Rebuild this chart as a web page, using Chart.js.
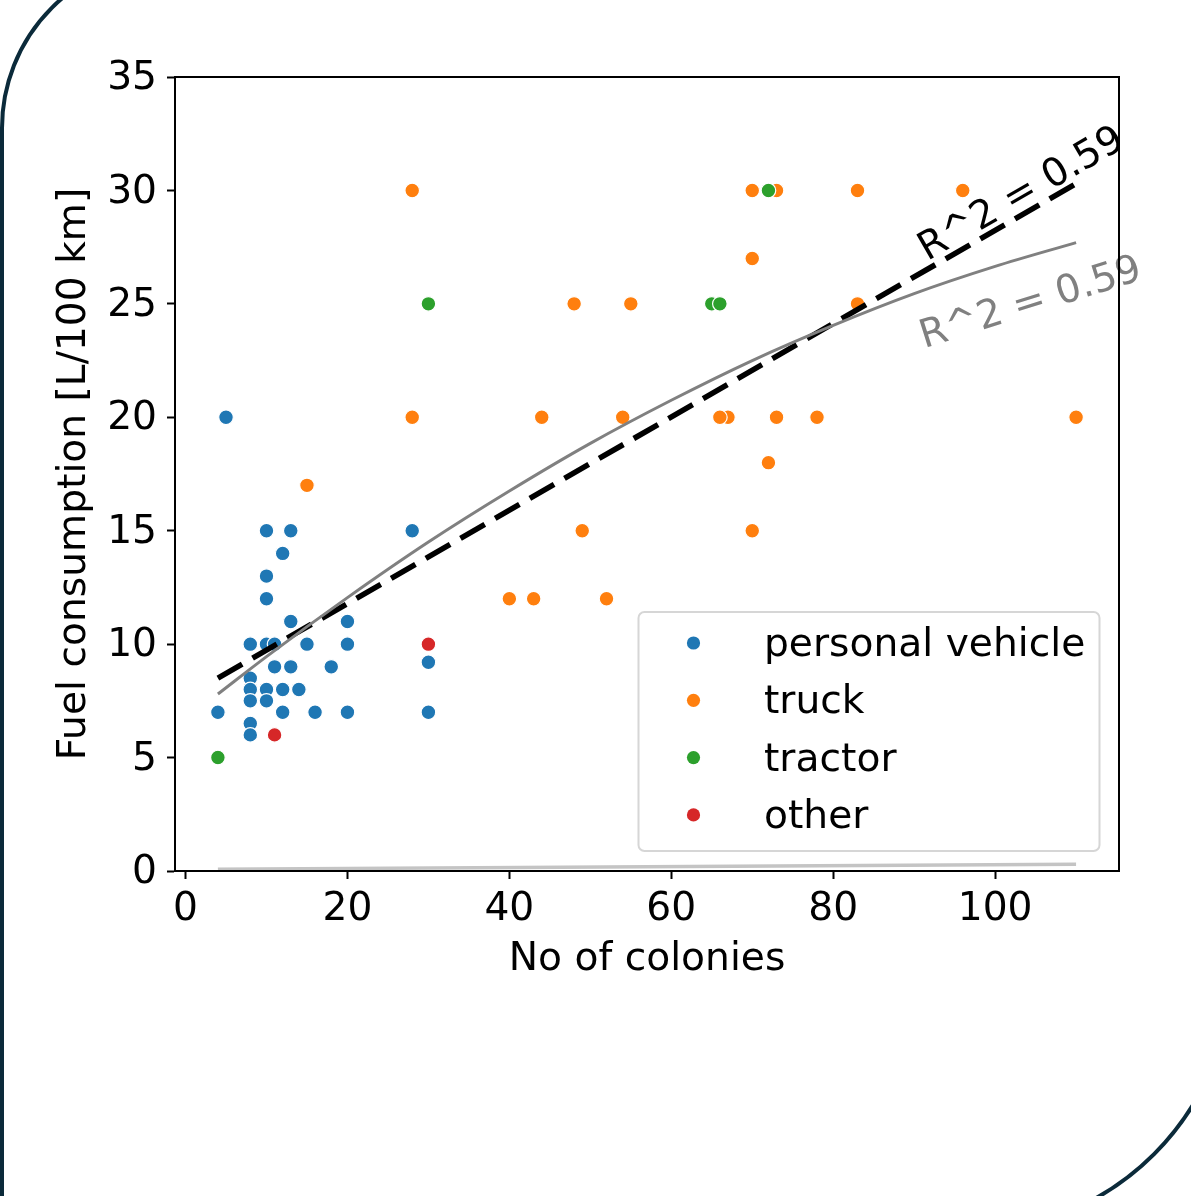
<!DOCTYPE html>
<html>
<head>
<meta charset="utf-8">
<script src="https://cdn.jsdelivr.net/npm/chart.js@4.4.1/dist/chart.umd.min.js"></script>
<style>
  html, body { margin: 0; padding: 0; background: #ffffff; }
  #wrap { width: 1191px; height: 1196px; position: relative; overflow: hidden; }
  canvas { display: block; }
</style>
</head>
<body>
<div id="wrap"><canvas id="c" width="1191" height="1196"></canvas></div>
<script>
// ---- data ----
const categories = ["personal vehicle", "truck", "tractor", "other"];
const categoryColors = ["#1f77b4", "#ff7f0e", "#2ca02c", "#d62728"];

const personalX = [4,5,8,8,8,8,8,8,10,10,10,10,10,10,11,11,12,12,12,13,13,13,14,15,16,18,20,20,20,28,30,30];
const personalY = [7,20,10,8.5,8,7.5,6.5,6,15,13,12,10,8,7.5,10,9,14,8,7,15,11,9,8,10,7,9,11,10,7,15,9.2,7];

const truckX = [15,28,28,40,43,44,48,49,52,54,55,67,66,70,70,70,72,73,73,78,83,83,96,110];
const truckY = [17,30,20,12,12,20,25,15,12,20,25,20,20,30,27,15,18,30,20,20,30,25,30,20];

const tractorX = [4,30,65,66,72];
const tractorY = [5,25,25,25,30];

const otherX = [11,30];
const otherY = [6,10];

const linearFitX = [4,110];
const linearFitY = [8.5,30.3];

const curveFitX = [4,10,20,30,40,50,60,70,80,90,100,110];
const curveFitY = [7.8,9.45,12.05,14.5,16.75,18.85,20.75,22.5,24.05,25.45,26.65,27.7];

const baseFitX = [4,57,110];
const baseFitY = [0.08,0.19,0.3];

const xTicks = [0,20,40,60,80,100];
const yTicks = [0,5,10,15,20,25,30,35];

const r2Label = "R^2 = 0.59";
const blackLabelAt = [103.3, 29.8];
const greyLabelAt = [104.4, 25.0];

const xTitle = "No of colonies";
const yTitle = "Fuel consumption [L/100 km]";

// ---- helpers ----
const zip = (xs, ys) => xs.map((x, i) => ({x: x, y: ys[i]}));
const FONT = "DejaVu Sans";
const FS = 39.2;

Chart.defaults.font.family = FONT;
Chart.defaults.color = "#000";

const framePlugin = {
  id: "frame",
  beforeDraw(chart) {
    const ctx = chart.ctx;
    ctx.save();
    ctx.fillStyle = "#ffffff";
    ctx.fillRect(0, 0, chart.width, chart.height);
    ctx.strokeStyle = "#0b2a3a";
    ctx.lineWidth = 4;
    ctx.beginPath();
    ctx.moveTo(2, 1400);
    ctx.lineTo(2, 128);
    ctx.arc(172, 128, 170, Math.PI, 1.5 * Math.PI);
    ctx.lineTo(1400, -42);
    ctx.stroke();
    ctx.beginPath();
    ctx.moveTo(1232, -100);
    ctx.lineTo(1232, 966);
    ctx.arc(966, 966, 266, 0, 0.5 * Math.PI);
    ctx.lineTo(-100, 1232);
    ctx.stroke();
    ctx.restore();
  }
};

const spinePlugin = {
  id: "spines",
  afterDraw(chart) {
    const {ctx, chartArea: a} = chart;
    ctx.save();
    ctx.strokeStyle = "#000";
    ctx.lineWidth = 2;
    ctx.strokeRect(a.left, a.top, a.right - a.left, a.bottom - a.top);
    ctx.restore();
  }
};

const labelPlugin = {
  id: "r2labels",
  afterDatasetsDraw(chart) {
    const {ctx, scales: {x, y}} = chart;
    const drawLabel = (at, x0, y0, x1, y1, color) => {
      const ang = Math.atan2(y.getPixelForValue(y1) - y.getPixelForValue(y0),
                             x.getPixelForValue(x1) - x.getPixelForValue(x0));
      ctx.save();
      ctx.translate(x.getPixelForValue(at[0]), y.getPixelForValue(at[1]));
      ctx.rotate(ang);
      ctx.font = FS + "px '" + FONT + "'";
      ctx.fillStyle = color;
      ctx.textAlign = "center";
      ctx.textBaseline = "middle";
      ctx.fillText(r2Label, 0, 0);
      ctx.restore();
    };
    drawLabel(blackLabelAt, linearFitX[0], linearFitY[0], linearFitX[1], linearFitY[1], "#000000");
    const n = curveFitX.length;
    drawLabel(greyLabelAt, curveFitX[n - 3], curveFitY[n - 3], curveFitX[n - 1], curveFitY[n - 1], "#808080");
  }
};

const legendPlugin = {
  id: "boxLegend",
  afterDraw(chart) {
    const ctx = chart.ctx;
    const bx = 638.5, by = 612, bw = 461, bh = 239, r = 6;
    ctx.save();
    ctx.fillStyle = "rgba(255,255,255,0.8)";
    ctx.strokeStyle = "#d6d6d6";
    ctx.lineWidth = 2;
    ctx.beginPath();
    ctx.roundRect(bx, by, bw, bh, r);
    ctx.fill();
    ctx.stroke();
    ctx.font = FS + "px '" + FONT + "'";
    ctx.textAlign = "left";
    ctx.textBaseline = "middle";
    categories.forEach((name, i) => {
      const yy = 643 + i * 57.3;
      ctx.beginPath();
      ctx.arc(693.5, yy, 6.6, 0, Math.PI * 2);
      ctx.fillStyle = categoryColors[i];
      ctx.fill();
      ctx.fillStyle = "#000";
      ctx.fillText(name, 764, yy + 3);
    });
    ctx.restore();
  }
};

const scatterDs = (label, xs, ys, color, order) => ({
  type: "scatter",
  label: label,
  data: zip(xs, ys),
  backgroundColor: color,
  borderColor: "#ffffff",
  pointBackgroundColor: color,
  pointBorderColor: "#ffffff",
  pointBorderWidth: 1.2,
  pointRadius: 7.3,
  pointHoverRadius: 7.3,
  order: order
});

const datasets = [
  {
    type: "line", label: "curve fit", data: zip(curveFitX, curveFitY),
    borderColor: "#808080", borderWidth: 3, pointRadius: 0, fill: false,
    cubicInterpolationMode: "monotone", order: 0
  },
  {
    type: "line", label: "linear fit", data: zip(linearFitX, linearFitY),
    borderColor: "#000000", borderWidth: 5.5, borderDash: [28, 12], borderCapStyle: "butt",
    pointRadius: 0, fill: false, order: 1
  },
  {
    type: "line", label: "base fit", data: zip(baseFitX, baseFitY),
    borderColor: "#c4c4c4", borderWidth: 3.5, pointRadius: 0, fill: false,
    cubicInterpolationMode: "monotone", order: 2
  },
  scatterDs(categories[3], otherX, otherY, categoryColors[3], 3),
  scatterDs(categories[2], tractorX, tractorY, categoryColors[2], 4),
  scatterDs(categories[1], truckX, truckY, categoryColors[1], 5),
  scatterDs(categories[0], personalX, personalY, categoryColors[0], 6)
];

const PAD_LEFT = 51;

new Chart(document.getElementById("c"), {
  type: "scatter",
  data: { datasets: datasets },
  options: {
    responsive: false,
    devicePixelRatio: 1,
    animation: false,
    events: [],
    layout: { padding: { left: PAD_LEFT, top: 77, right: 72, bottom: 213 } },
    plugins: {
      legend: { display: false },
      tooltip: { enabled: false }
    },
    scales: {
      x: {
        type: "linear",
        min: -1.3,
        max: 115.3,
        afterFit(scale) { scale.height = 112; },
        afterBuildTicks(scale) { scale.ticks = xTicks.map(v => ({value: v})); },
        ticks: {
          font: { size: FS, family: FONT },
          color: "#000",
          padding: 7,
          maxRotation: 0,
          autoSkip: false,
          callback: (v) => String(v)
        },
        grid: {
          drawOnChartArea: false, drawTicks: true, tickLength: 8,
          tickWidth: 2, tickColor: "#000", color: "#000"
        },
        border: { display: true, color: "#000", width: 2 },
        title: {
          display: true, text: xTitle,
          font: { size: FS, family: FONT }, color: "#000",
          padding: { top: 0, bottom: 0 }
        }
      },
      y: {
        type: "linear",
        min: 0,
        max: 35,
        afterFit(scale) { scale.width = 175 - PAD_LEFT; },
        afterBuildTicks(scale) { scale.ticks = yTicks.map(v => ({value: v})); },
        ticks: {
          font: { size: FS, family: FONT },
          color: "#000",
          padding: 10,
          labelOffset: 2,
          autoSkip: false,
          callback: (v) => String(v)
        },
        grid: {
          drawOnChartArea: false, drawTicks: true, tickLength: 8,
          tickWidth: 2, tickColor: "#000", color: "#000"
        },
        border: { display: true, color: "#000", width: 2 },
        title: {
          display: true, text: yTitle,
          font: { size: FS, family: FONT }, color: "#000",
          padding: { top: 0, bottom: 0 }
        }
      }
    }
  },
  plugins: [framePlugin, labelPlugin, spinePlugin, legendPlugin]
});
</script>
</body>
</html>
